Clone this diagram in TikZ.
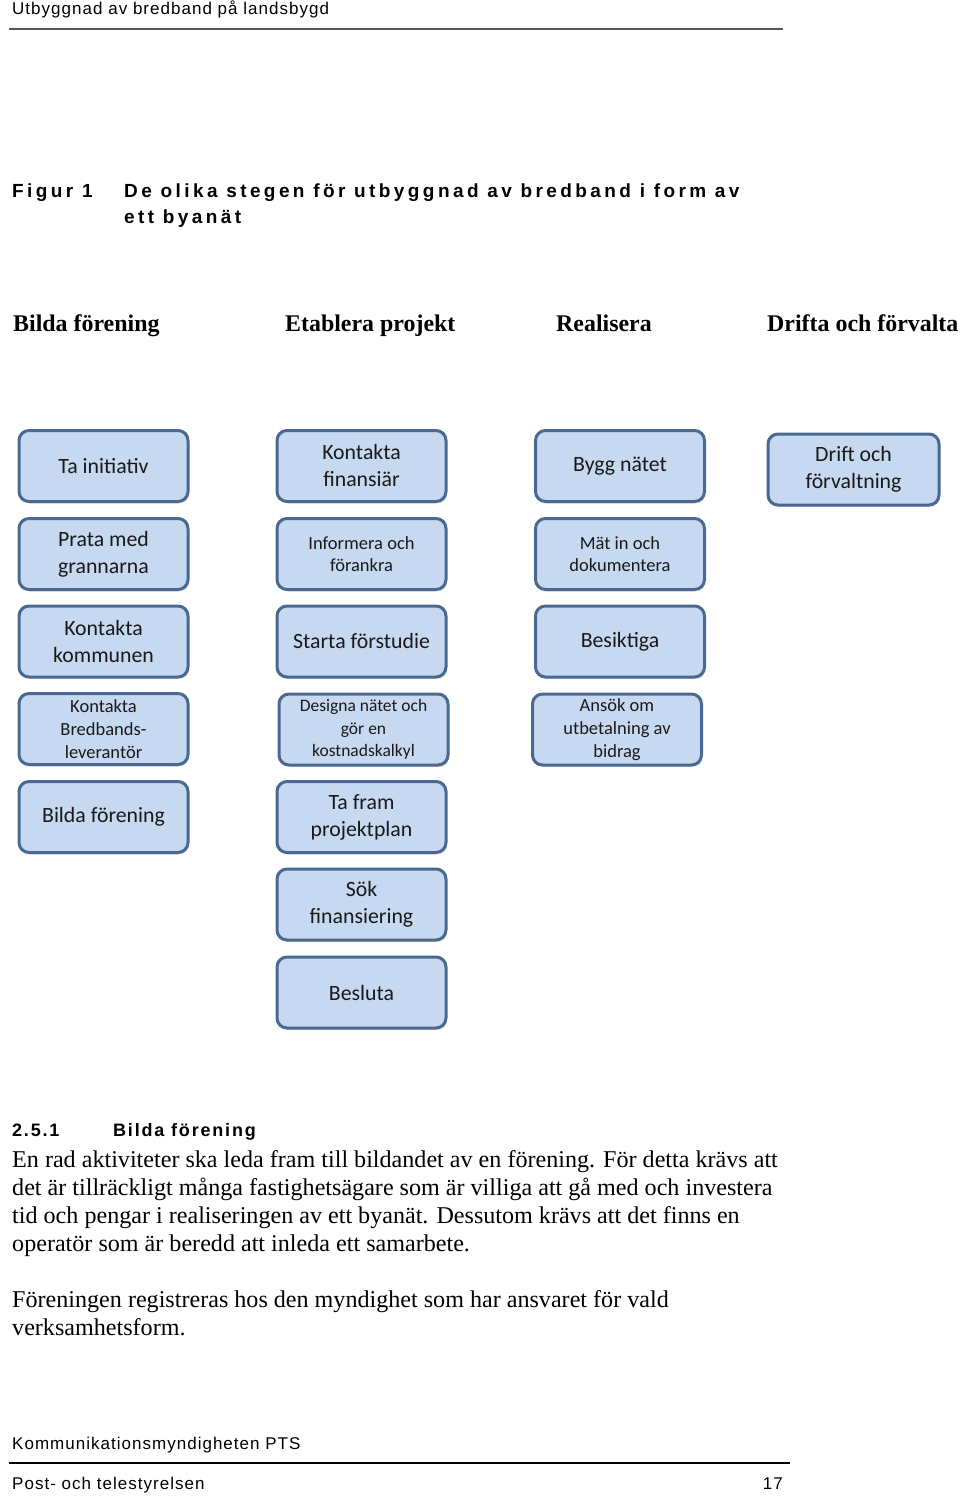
\documentclass[tikz,border=0pt]{standalone}
\usepackage{fontspec}
\setmainfont{Liberation Serif}
\newfontfamily\hdrfont{Liberation Sans}[LetterSpace=6]
\newfontfamily\figfont{Liberation Sans}[LetterSpace=18]
\newfontfamily\secfont{Liberation Sans}[LetterSpace=10]
\newfontfamily\boxfont{Carlito}
\usetikzlibrary{shadows}
\definecolor{boxfill}{HTML}{C6D9F1}
\definecolor{boxborder}{HTML}{4A6991}
\definecolor{hdrline}{HTML}{555555}
\tikzset{
  box/.style={draw=boxborder, fill=boxfill, line width=3pt, rounded corners=10pt,
    align=center, inner sep=0pt, minimum width=169pt, minimum height=71pt,
    font=\boxfont\fontsize{21.8}{27}\selectfont, text=black!90,
    drop shadow={opacity=0.25, shadow xshift=1pt, shadow yshift=-2pt}},
  small/.style={font=\boxfont\fontsize{18.5}{22.7}\selectfont},
  smaller/.style={font=\boxfont\fontsize{17.5}{22.5}\selectfont},
  hdr/.style={anchor=base west, inner sep=0pt, font=\hdrfont\fontsize{17}{19}\selectfont},
  coltitle/.style={anchor=base west, inner sep=0pt, font=\bfseries\fontsize{23.9}{26}\selectfont},
  figtitle/.style={anchor=base west, inner sep=0pt, font=\figfont\bfseries\fontsize{19}{26}\selectfont},
  sectitle/.style={anchor=base west, inner sep=0pt, font=\secfont\bfseries\fontsize{18}{24}\selectfont},
  body/.style={anchor=base west, inner sep=0pt, font=\fontsize{24.1}{28}\selectfont}
}
\begin{document}
\begin{tikzpicture}[x=1pt,y=-1pt]
\useasboundingbox (0,0) rectangle (960,1496);
% page header
\node[hdr] (hd) at (12,15) {Utbyggnad av bredband på landsbygd};
\coordinate (hl1) at (9,29); \coordinate (hl2) at (783,29);
\draw[hdrline, line width=2.2pt] (hl1) -- (hl2);
% figure title
\node[figtitle] (fg) at (12,197) {Figur 1};
\node[figtitle] (ft1) at (124,197) {De olika stegen för utbyggnad av bredband i form av};
\node[figtitle] (ft2) at (124,223) {ett byanät};
% column titles
\node[coltitle] (c1) at (13,331) {Bilda förening};
\node[coltitle] (c2) at (285,331) {Etablera projekt};
\node[coltitle] (c3) at (556,331) {Realisera};
\node[coltitle] (c4) at (767,331) {Drifta och förvalta};
% column 1
\node[box] (a1) at (103.5,466) {Ta initiativ};
\node[box] (a2) at (103.5,554) {Prata med\\grannarna};
\node[box] (a3) at (103.5,641.5) {Kontakta\\kommunen};
\node[box, small] (a4) at (103.5,729) {Kontakta\\Bredbands-\\leverantör};
\node[box] (a5) at (103.5,817) {Bilda förening};
% column 2
\node[box] (b1) at (361.5,466) {Kontakta\\finansiär};
\node[box, small] (b2) at (361.5,554) {Informera och\\förankra};
\node[box] (b3) at (361.5,641.5) {Starta förstudie};
\node[box, smaller] (b4) at (363.5,729.5) {Designa nätet och\\gör en\\kostnadskalkyl};
\node[box] (b5) at (361.5,817) {Ta fram\\projektplan};
\node[box] (b6) at (361.5,904.5) {Sök\\finansiering};
\node[box] (b7) at (361.5,992.5) {Besluta};
% column 3
\node[box] (r1) at (620,466) {Bygg nätet};
\node[box, small] (r2) at (620,554) {Mät in och\\dokumentera};
\node[box] (r3) at (620,641.5) {Besiktiga};
\node[box, small] (r4) at (617,729.5) {Ansök om\\utbetalning av\\bidrag};
% column 4
\node[box, minimum width=171pt] (d1) at (853.5,469.5) {Drift och\\förvaltning};
% section
\node[sectitle] (s1) at (12,1136) {2.5.1};
\node[sectitle] (s2) at (113,1136) {Bilda förening};
\node[body] (p1) at (12,1167) {En rad aktiviteter ska leda fram till bildandet av en förening. För detta krävs att};
\node[body] (p2) at (12,1195) {det är tillräckligt många fastighetsägare som är villiga att gå med och investera};
\node[body] (p3) at (12,1223) {tid och pengar i realiseringen av ett byanät. Dessutom krävs att det finns en};
\node[body] (p4) at (12,1251) {operatör som är beredd att inleda ett samarbete.};
\node[body] (q1) at (12,1307) {Föreningen registreras hos den myndighet som har ansvaret för vald};
\node[body] (q2) at (12,1335) {verksamhetsform.};
% footer
\node[hdr] (f1) at (12,1449) {Kommunikationsmyndigheten PTS};
\coordinate (fl1) at (9,1463); \coordinate (fl2) at (790,1463);
\draw[black, line width=1.5pt] (fl1) -- (fl2);
\node[hdr] (f2) at (12,1489) {Post- och telestyrelsen};
\node[hdr, anchor=base east] (f3) at (783,1489) {17};
\end{tikzpicture}
\end{document}
